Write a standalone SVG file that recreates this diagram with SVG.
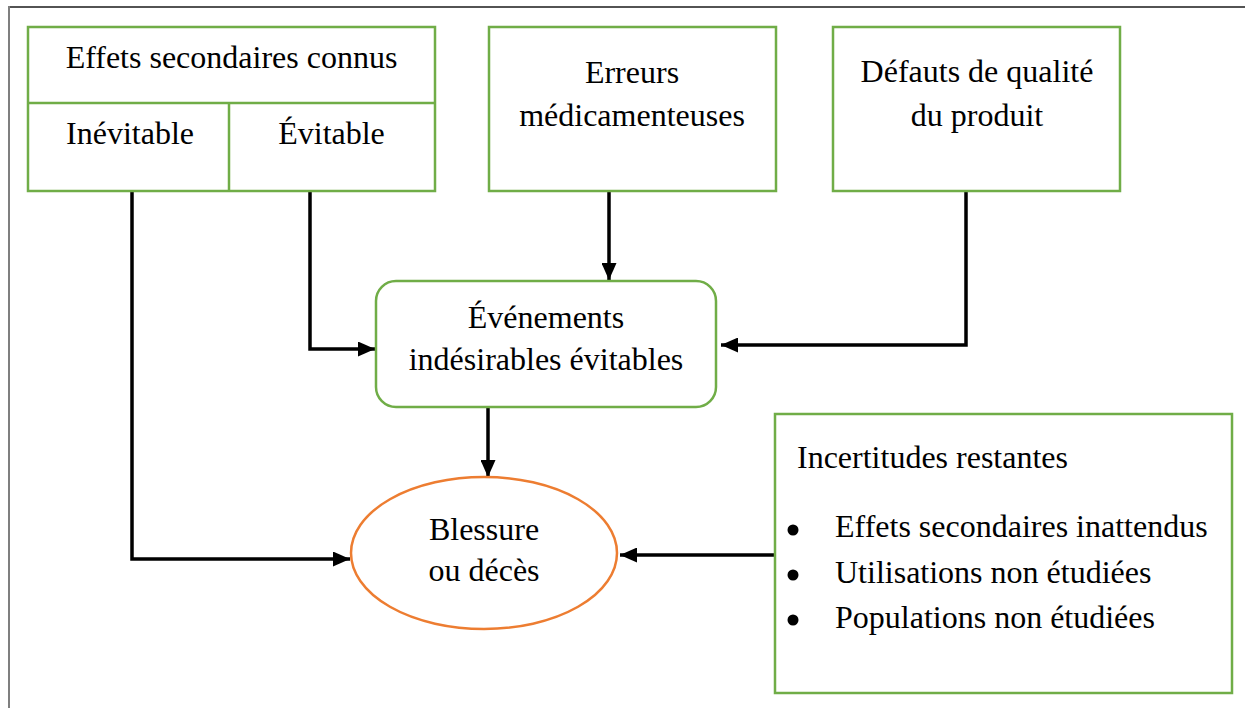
<svg xmlns="http://www.w3.org/2000/svg" width="1245" height="708" viewBox="0 0 1245 708">
  <style>
    .box { fill: #ffffff; stroke: #70AD47; stroke-width: 2.5; }
    .oval { fill: #ffffff; stroke: #ED7D31; stroke-width: 2.5; }
    .lbl { font-family: "Liberation Serif", "Times New Roman", serif; font-size: 32px; fill: #000000; }
    .mid { text-anchor: middle; }
    .wire { fill: none; stroke: #000000; stroke-width: 3.5; stroke-linejoin: miter; }
  </style>
  <defs>
    <marker id="arrow" markerUnits="userSpaceOnUse" markerWidth="17" markerHeight="15" refX="17" refY="7.5" orient="auto">
      <path d="M0,0 L17,7.5 L0,15 Z" fill="#000000"/>
    </marker>
  </defs>

  <rect width="1245" height="708" fill="#ffffff"/>

  <!-- page frame -->
  <line x1="9" y1="7" x2="1245" y2="7" stroke="#1a1a1a" stroke-width="1.6"/>
  <line x1="9" y1="6" x2="9" y2="708" stroke="#7f7f7f" stroke-width="2"/>

  <!-- connectors -->
  <g id="connectors">
    <polyline class="wire" points="132,192 132,559 350,559" marker-end="url(#arrow)"/>
    <polyline class="wire" points="310,192 310,349 375,349" marker-end="url(#arrow)"/>
    <line class="wire" x1="609" y1="192" x2="609" y2="280" marker-end="url(#arrow)"/>
    <polyline class="wire" points="966,192 966,345 721,345" marker-end="url(#arrow)"/>
    <line class="wire" x1="488" y1="408" x2="488" y2="477" marker-end="url(#arrow)"/>
    <line class="wire" x1="776" y1="555" x2="620" y2="555" marker-end="url(#arrow)"/>
  </g>

  <!-- known side effects, split into two cells -->
  <g id="effets-connus">
    <rect class="box" x="28" y="27" width="407" height="164"/>
    <line class="box" x1="28" y1="103" x2="435" y2="103"/>
    <line class="box" x1="229" y1="103" x2="229" y2="191"/>
    <text class="lbl mid" x="231.5" y="68">Effets secondaires connus</text>
    <text class="lbl mid" x="130" y="144">Inévitable</text>
    <text class="lbl mid" x="331.5" y="144">Évitable</text>
  </g>

  <g id="erreurs">
    <rect class="box" x="489" y="27" width="287" height="164"/>
    <text class="lbl mid" x="632" y="83">Erreurs</text>
    <text class="lbl mid" x="632" y="126">médicamenteuses</text>
  </g>

  <g id="defauts">
    <rect class="box" x="833" y="27" width="287" height="164"/>
    <text class="lbl mid" x="977" y="82">Défauts de qualité</text>
    <text class="lbl mid" x="977" y="126">du produit</text>
  </g>

  <g id="evenements">
    <rect class="box" x="376" y="281" width="340" height="126" rx="20" ry="20"/>
    <text class="lbl mid" x="546" y="328">Événements</text>
    <text class="lbl mid" x="546" y="370">indésirables évitables</text>
  </g>

  <g id="blessure">
    <ellipse class="oval" cx="484" cy="553" rx="133" ry="76"/>
    <text class="lbl mid" x="484" y="540">Blessure</text>
    <text class="lbl mid" x="484" y="581">ou décès</text>
  </g>

  <g id="incertitudes">
    <rect class="box" x="775" y="414" width="457" height="279"/>
    <text class="lbl" x="797" y="468">Incertitudes restantes</text>
    <circle cx="793" cy="530" r="5.5"/>
    <circle cx="793" cy="575" r="5.5"/>
    <circle cx="793" cy="620" r="5.5"/>
    <text class="lbl" x="835" y="537">Effets secondaires inattendus</text>
    <text class="lbl" x="835" y="583">Utilisations non étudiées</text>
    <text class="lbl" x="835" y="628">Populations non étudiées</text>
  </g>
</svg>
